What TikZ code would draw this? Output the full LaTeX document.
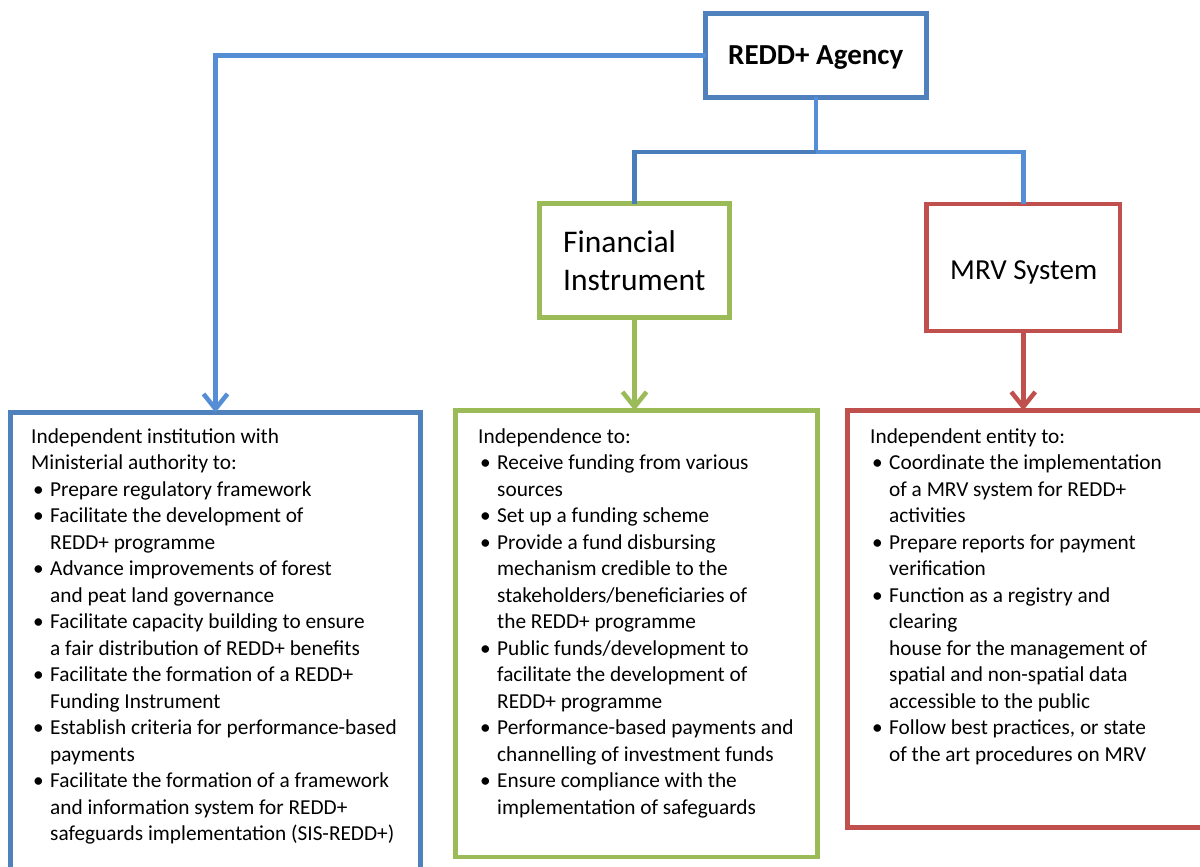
\documentclass[tikz,border=0pt]{standalone}
\usepackage{fontspec}
\setmainfont{Carlito}
\usetikzlibrary{arrows.meta,calc}
\definecolor{boxblue}{HTML}{4F81BD}
\definecolor{lineblue}{HTML}{558ED5}
\definecolor{darkline}{HTML}{4A7EBB}
\definecolor{boxgreen}{HTML}{9BBB59}
\definecolor{boxred}{HTML}{C0504D}
\newcommand{\bitem}{\makebox[19pt][l]{\hspace{2pt}\textbullet}}
\newcommand{\bcont}{\hspace*{19pt}}
\begin{document}
\begin{tikzpicture}[x=1pt,y=-1pt,
  frame/.style={draw, line width=4.5pt, inner sep=0pt, outer sep=0pt, fill=white},
  conn/.style={line width=4.5pt},
  arr/.style={line width=4.5pt, -{Straight Barb[length=15pt,width=24pt]}},
  body/.style={anchor=base west, inner sep=0pt, font=\fontsize{21.3}{26.5}\selectfont},
  title/.style={anchor=base west, inner sep=0pt}
]
\useasboundingbox[fill=white] (0,0) rectangle (1200,867);

\coordinate (junc) at (816,152);

% boxes
\node[frame, draw=boxblue, minimum width=221pt, minimum height=84pt] (agency) at (816,55.5) {};
\node[frame, draw=boxgreen, minimum width=190pt, minimum height=114pt] (fin) at (634.5,260.5) {};
\node[frame, draw=boxred, minimum width=193.5pt, minimum height=127pt] (mrv) at (1023.25,267.5) {};
\node[frame, draw=boxblue, minimum width=410pt, minimum height=487pt] (lbox) at (215.5,656) {};
\node[frame, draw=boxgreen, minimum width=362pt, minimum height=446.5pt] (mbox) at (636.5,633.75) {};
\node[frame, draw=boxred, minimum width=382.5pt, minimum height=417pt] (rbox) at (1038.75,619) {};

% connectors
\draw[conn, lineblue] (agency.south) -- (junc);
\draw[conn, darkline] (junc) -| (fin.north);
\draw[conn, lineblue] (junc) -| (mrv.north);
\draw[arr, lineblue] (agency.west) -| (lbox.north);
\draw[arr, boxgreen] (fin.south) -- (fin.south |- mbox.north);
\draw[arr, boxred] (mrv.south) -- (mrv.south |- rbox.north);

% titles
\node[title, font=\fontsize{29}{34}\selectfont\bfseries] (agencytxt) at (728,65) {REDD+ Agency};
\node[title, font=\fontsize{31.5}{38}\selectfont] (fintxt) at (563,252)
  {\begin{tabular}[t]{@{}l@{}}Financial\\Instrument\end{tabular}};
\node[title, font=\fontsize{29}{35}\selectfont] (mrvtxt) at (950,279) {MRV System};

% body texts
\node[body] (ltxt) at (31,443) {\begin{tabular}[t]{@{}l@{}}
Independent institution with\\
Ministerial authority to:\\
\bitem Prepare regulatory framework\\
\bitem Facilitate the development of\\
\bcont REDD+ programme\\
\bitem Advance improvements of forest\\
\bcont and peat land governance\\
\bitem Facilitate capacity building to ensure\\
\bcont a fair distribution of REDD+ benefits\\
\bitem Facilitate the formation of a REDD+\\
\bcont Funding Instrument\\
\bitem Establish criteria for performance-based\\
\bcont payments\\
\bitem Facilitate the formation of a framework\\
\bcont and information system for REDD+\\
\bcont safeguards implementation (SIS-REDD+)
\end{tabular}};

\node[body] (mtxt) at (478,443) {\begin{tabular}[t]{@{}l@{}}
Independence to:\\
\bitem Receive funding from various\\
\bcont sources\\
\bitem Set up a funding scheme\\
\bitem Provide a fund disbursing\\
\bcont mechanism credible to the\\
\bcont stakeholders/beneficiaries of\\
\bcont the REDD+ programme\\
\bitem Public funds/development to\\
\bcont facilitate the development of\\
\bcont REDD+ programme\\
\bitem Performance-based payments and\\
\bcont channelling of investment funds\\
\bitem Ensure compliance with the\\
\bcont implementation of safeguards
\end{tabular}};

\node[body] (rtxt) at (870,443) {\begin{tabular}[t]{@{}l@{}}
Independent entity to:\\
\bitem Coordinate the implementation\\
\bcont of a MRV system for REDD+\\
\bcont activities\\
\bitem Prepare reports for payment\\
\bcont verification\\
\bitem Function as a registry and\\
\bcont clearing\\
\bcont house for the management of\\
\bcont spatial and non-spatial data\\
\bcont accessible to the public\\
\bitem Follow best practices, or state\\
\bcont of the art procedures on MRV
\end{tabular}};
\end{tikzpicture}
\end{document}
